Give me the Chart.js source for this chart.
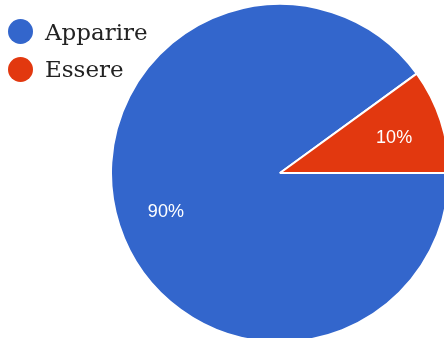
<!DOCTYPE html>
<html>
<head>
<meta charset="utf-8">
<script src="https://cdn.jsdelivr.net/npm/chart.js@4"></script>
<style>
  html, body { margin: 0; padding: 0; overflow: hidden; background: #fff; }
  #pieContainer { position: absolute; left: 0; top: 0; width: 450px; height: 343px; }
  #pieLegend { position: absolute; left: 8px; top: 13px; z-index: 2; }
  #pieLegend .row { display: flex; align-items: center; height: 37.5px; }
  #pieLegend .dot { width: 25px; height: 25px; border-radius: 50%; margin-right: 12px; flex: none; }
  #pieLegend .txt { font-family: "DejaVu Serif", "Liberation Serif", serif; font-size: 23px; color: #222; }
</style>
</head>
<body>
<div id="pieContainer"><canvas id="pieChart"></canvas></div>
<div id="pieLegend"></div>
<script>
// chart data
const labels = ["Apparire", "Essere"];
const shares = [90, 10];
const sliceColors = ["#3366cc", "#e2380f"];

// percent text inside each slice, placed on the arc's own geometry
const sliceLabels = {
  id: "sliceLabels",
  afterDatasetsDraw(chart) {
    const ctx = chart.ctx;
    const meta = chart.getDatasetMeta(0);
    const total = shares.reduce((a, b) => a + b, 0);
    ctx.save();
    ctx.fillStyle = "#ffffff";
    ctx.font = "18px 'Liberation Sans', Arial, sans-serif";
    ctx.textAlign = "center";
    ctx.textBaseline = "middle";
    meta.data.forEach((arc, i) => {
      const p = arc.getProps(["x", "y", "startAngle", "endAngle", "outerRadius"], true);
      const mid = (p.startAngle + p.endAngle) / 2;
      const r = p.outerRadius * 0.71;
      const pct = Math.round((shares[i] / total) * 100) + "%";
      ctx.fillText(pct, p.x + Math.cos(mid) * r, p.y + Math.sin(mid) * r + 2);
    });
    ctx.restore();
  },
};

const ctx = document.getElementById("pieChart").getContext("2d");
const chart = new Chart(ctx, {
  type: "pie",
  data: {
    labels: labels,
    datasets: [
      {
        data: shares,
        backgroundColor: sliceColors,
        borderColor: "#ffffff",
        borderWidth: 2,
      },
    ],
  },
  options: {
    responsive: true,
    maintainAspectRatio: false,
    animation: false,
    rotation: 90,
    layout: { padding: { top: 3, left: 110, right: 0, bottom: 0 } },
    plugins: {
      tooltip: { enabled: false },
      legend: { display: false },
    },
  },
  plugins: [sliceLabels],
});

// html legend (canvas legend would be clipped to its box)
const legendBox = document.getElementById("pieLegend");
chart.data.labels.forEach((label, i) => {
  const row = document.createElement("div");
  row.className = "row";
  const dot = document.createElement("span");
  dot.className = "dot";
  dot.style.backgroundColor = chart.data.datasets[0].backgroundColor[i];
  const txt = document.createElement("span");
  txt.className = "txt";
  txt.textContent = label;
  row.appendChild(dot);
  row.appendChild(txt);
  legendBox.appendChild(row);
});
</script>
</body>
</html>
